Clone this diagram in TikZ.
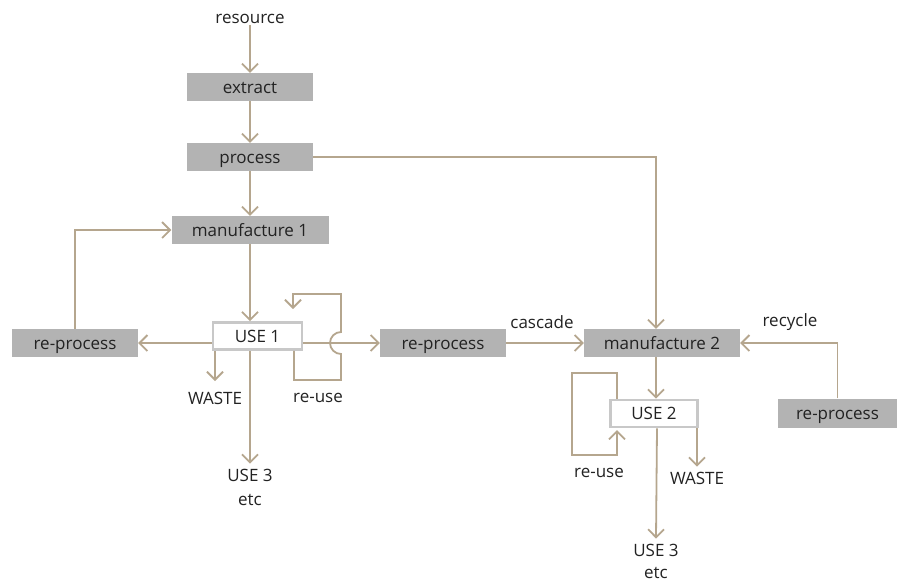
\documentclass[tikz,border=0pt]{standalone}
\usepackage{fontspec}
\setmainfont{Open Sans}
\usetikzlibrary{arrows.meta,calc}
\definecolor{tan}{HTML}{B5A68E}
\definecolor{boxgray}{HTML}{B3B3B3}
\definecolor{usegray}{HTML}{C8C8C8}
\definecolor{txt}{HTML}{222222}
\begin{document}
\begin{tikzpicture}[x=1pt,y=-1pt,
  font=\fontsize{17}{20}\selectfont, text=txt,
  graybox/.style={fill=boxgray, minimum height=28pt, inner sep=0pt, text height=13pt, text depth=1pt},
  usebox/.style={fill=white, draw=usegray, line width=2.8pt, minimum height=27pt, inner sep=0pt, text height=13pt, text depth=1pt},
  lbl/.style={inner sep=1pt},
  conn/.style={draw=tan, line width=1.8pt},
  arr/.style={conn, -{Straight Barb[length=8pt,width=16pt]}}]
\useasboundingbox (0,0) rectangle (897,582);
% nodes
\node[lbl] (resource) at (250,19) {resource};
\node[graybox, minimum width=126pt] (extract) at (250,87) {extract};
\node[graybox, minimum width=126pt] (process) at (250,157) {process};
\node[graybox, minimum width=157pt] (man1) at (250,230) {manufacture 1};
\node[usebox, minimum width=89pt] (use1) at (257.5,336) {USE 1};
\node[graybox, minimum width=126pt] (rp1) at (75,343) {re-process};
\node[graybox, minimum width=126pt] (rp2) at (443,343) {re-process};
\node[graybox, minimum width=156pt] (man2) at (662,343) {manufacture 2};
\node[graybox, minimum width=119pt, minimum height=29pt] (rp3) at (837.5,413) {re-process};
\node[usebox, minimum width=87pt] (use2) at (654,413.5) {USE 2};
\node[lbl] (waste1) at (215,398) {WASTE};
\node[lbl] (reuse1) at (318,398) {re-use};
\node[lbl, inner sep=5pt] (use3a) at (250,475) {USE 3};
\node[lbl] (etca) at (250,500) {etc};
\node[lbl, inner sep=5pt] (use3b) at (656,550) {USE 3};
\node[lbl] (etcb) at (656,573) {etc};
\node[lbl] (cascade) at (542,322) {cascade};
\node[lbl] (recycle) at (790,322) {recycle};
\node[lbl] (reuse2) at (599,473) {re-use};
\node[lbl, inner sep=5pt] (waste2) at (697,478) {WASTE};
\coordinate (r1top) at (293,309);
\coordinate (r2bot) at (617,430);
% connectors
\draw[arr] (resource.south) -- (extract.north);
\draw[arr] (extract.south) -- (process.north);
\draw[arr] (process.south) -- (process.south |- man1.north);
\draw[arr] (process.east) -| ([xshift=-6pt]man2.north);
\draw[arr] (man1.south) -- (man1.south |- use1.north);
\draw[arr] (rp1.north) |- (man1.west);
\draw[arr] (use1.west |- rp1.east) -- (rp1.east);
\draw[arr] (use1.east |- rp2.west) -- (rp2.west);
\draw[arr] (rp2.east) -- (man2.west);
\draw[arr] (rp3.north) |- (man2.east);
\draw[arr] (man2.south -| 656,0) -- (use2.north -| 656,0);
\draw[arr] (use1.south -| 250,0) -- (use3a.north);
\draw[arr] (use1.south -| 215,0) -- (215,381);
\draw[arr] (use2.south -| 657,0) -- (use3b.north);
\draw[arr] (use2.south -| 697,0) -- (waste2.north);
% re-use loop 1 with bump
\draw[arr] (use1.south -| 294,0) -- (294,380) -- (341,380) -- (341,354)
  arc[start angle=90, end angle=270, radius=11] -- (341,294) -- (293,294) -- (r1top);
% re-use loop 2
\draw[arr] (use2.north -| 617,0) -- (617,373) -- (572,373) -- (572,455) -- (617,455) -- (r2bot);
\end{tikzpicture}
\end{document}
